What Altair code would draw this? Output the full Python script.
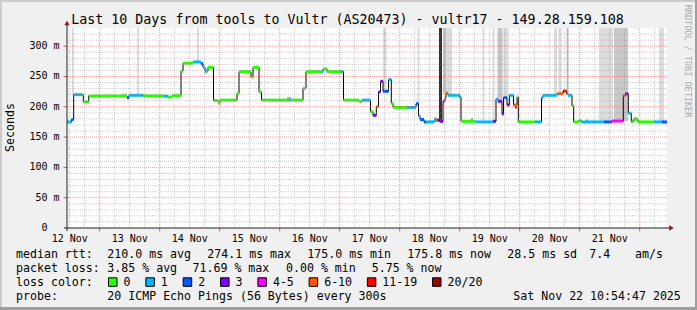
import altair as alt
import pandas as pd

MONO = "DejaVu Sans Mono"
PAD_L, PAD_T, PAD_R, PAD_B = 67, 28, 30, 82
W, H = 600, 200

# time axis: hours since 12 Nov 00:00
T_START, T_END = 10.92, 250.92
Y_MAX = 330

# ---- median rtt (step starts, ms, loss class) ----
med_t = [10.92, 12.72, 13.60, 16.92, 17.44, 19.60, 34.92, 35.72, 41.52, 49.72,
         51.32, 52.92, 56.52, 57.32, 61.32, 64.52, 65.32, 66.12, 67.32, 69.52,
         71.32, 72.12, 78.92, 79.72, 84.52, 85.32, 87.72, 88.72, 99.72, 100.52,
         105.32, 106.52, 112.92, 113.32, 114.92, 120.52, 121.52, 127.72, 128.92, 132.32,
         133.32, 134.64, 135.52, 136.32, 137.32, 139.52, 140.64, 141.32, 146.92, 150.52,
         151.52, 152.12, 153.72, 154.52, 157.72, 158.92, 159.92, 161.32, 162.12, 162.52,
         163.32, 167.92, 168.52, 174.52, 181.32, 182.52, 183.32, 184.92, 185.52, 186.92,
         187.84, 189.52, 190.92, 191.44, 198.12, 200.72, 201.32, 206.92, 209.32, 210.72,
         211.32, 212.92, 213.60, 215.60, 216.72, 225.72, 228.92, 233.44, 234.32, 235.44,
         236.64, 237.12, 237.92, 239.32, 245.72, 248.92]
med_v = [175, 179, 220, 220, 208, 218, 215, 219, 218, 217.5,
         216, 218.5, 259, 272, 274, 271, 265, 259, 265, 210.5,
         207.5, 211, 222, 258, 249, 265, 224.5, 211, 211, 211,
         230.5, 258, 258, 262.5, 258, 258, 211, 209, 211, 192,
         186, 200, 224.5, 242, 225.5, 245, 205.5, 199, 199, 205,
         185, 179, 175, 175, 177, 178, 176, 209, 215, 222.5,
         219, 216, 176, 175, 176, 212.5, 209, 188, 215, 203,
         219, 203, 216, 175, 175, 215, 219, 221.5, 226, 222,
         219, 201.5, 175, 177, 175, 175, 176.5, 218.7, 221.4, 189.5,
         175, 177, 179.5, 175, 175, 175]
med_loss = ["1", "2", "1", "0", "0", "0", "2", "1", "0", "1",
            "0", "0", "0", "0", "1", "2", "1", "1", "0", "0",
            "0", "0", "0", "0", "0", "0", "0", "0", "1", "0",
            "0", "0", "1", "0", "0", "1", "0", "0", "1", "0",
            "3", "6-10", "3", "3", "2", "1", "0", "0", "1", "2",
            "1", "2", "2", "1", "1", "11-19", "3", "4-5", "4-5", "6-10",
            "1", "1", "0", "1", "3", "1", "3", "3", "2", "3",
            "1", "6-10", "0", "0", "1", "1", "1", "6-10", "11-19", "6-10",
            "1", "0", "0", "0", "1", "2", "4-5", "6-10", "3", "1",
            "0", "0", "0", "0", "1", "2"]

loss_labels = ["0", "1", "2", "3", "4-5", "6-10", "11-19", "20/20"]
loss_colors = ["#26ff00", "#00b8ff", "#0059ff", "#7e00ff", "#ff00ff", "#ff5500", "#ff0000", "#a10000"]

# ---- smoke (ping spread) ----
smoke_t0 = [12.92, 38.92, 62.92, 137.32, 151.12, 159.72, 161.32, 162.72, 177.12, 181.12,
            183.12, 185.44, 205.72, 207.44, 210.80, 223.72, 229.72, 247.72,
            32.92, 65.72, 71.32, 98.92, 157.72, 172.52, 190.12, 218.52, 237.72]
smoke_t1 = [13.72, 39.72, 63.72, 138.72, 151.92, 160.92, 162.72, 164.92, 177.92, 181.92,
            185.12, 187.52, 206.92, 208.80, 211.52, 229.32, 235.32, 249.72,
            34.92, 66.92, 72.52, 100.52, 158.92, 173.32, 190.92, 219.32, 238.92]
smoke_lo = [220, 220, 274, 226, 205, 176, 222, 219, 175, 175,
            209, 215, 219, 221, 222, 175, 176, 175,
            218, 254, 203, 211, 177, 176, 197, 175, 179]
smoke_hi = [330, 330, 330, 330, 330, 330, 330, 330, 330, 330,
            330, 330, 330, 330, 330, 330, 330, 330,
            223, 259, 208, 216, 182, 181, 202, 179, 183]
smoke_fill = ["#dcdcdc", "#dcdcdc", "#dcdcdc", "#dcdcdc", "#dcdcdc", "#333333", "#c4c4c4", "#dcdcdc", "#dcdcdc", "#dcdcdc",
              "#c4c4c4", "#dcdcdc", "#dcdcdc", "#dcdcdc", "#b4b4b4", "#dcdcdc", "#c8c8c8", "#dcdcdc",
              "#dcdcdc", "#d0d0d0", "#cccccc", "#aaaaaa", "#888888", "#999999", "#555555", "#999999", "#aaaaaa"]

# ---- grid / axis values ----
x_label_hours = [12 + 24 * i for i in range(10)]
x_labels = ["12 Nov", "13 Nov", "14 Nov", "15 Nov", "16 Nov", "17 Nov", "18 Nov", "19 Nov", "20 Nov", "21 Nov"]
x_major = [24 * i for i in range(1, 11)]
x_minor = [h for h in range(12, 251, 6) if h % 24]
y_label_values = [50, 100, 150, 200, 250, 300]
y_label_nums = ["50", "100", "150", "200", "250", "300"]
y_unit = "m"
y_major = [50, 100, 150, 200, 250, 300]
y_minor = [v for v in range(10, 330, 10) if v % 50]

title_text = "Last 10 Days from tools to Vultr (AS20473) - vultr17 - 149.28.159.108"
row1 = [("median rtt:", 16), ("210.0 ms avg", 107.3), ("274.1 ms max", 207.3), ("175.0 ms min", 307.3),
        ("175.8 ms now", 407.3), ("28.5 ms sd", 507.3), ("7.4", 589.3), ("am/s", 635)]
row2 = [("packet loss:", 16), ("3.85 % avg", 107.3), ("71.69 % max", 192.5), ("0.00 % min", 286),
        ("5.75 % now", 371.7)]
row4 = [("probe:", 16), ("20 ICMP Echo Pings (56 Bytes) every 300s", 107.3), ("Sat Nov 22 10:54:47 2025", 513.3)]

# ---------------------------------------------------------------
XS = alt.Scale(domain=[T_START, T_END], nice=False, zero=False)
YS = alt.Scale(domain=[0, Y_MAX], nice=False, zero=True)

seg_t1 = med_t[1:] + [T_END]
seg_df = pd.DataFrame({"t0": med_t, "t1": seg_t1, "v": med_v, "loss": med_loss})
line_df = pd.DataFrame({"t": med_t + [T_END], "v": med_v + [med_v[-1]]})
smoke_df = pd.DataFrame({"t0": smoke_t0, "t1": smoke_t1, "lo": smoke_lo, "hi": smoke_hi, "fill": smoke_fill})
xlab_df = pd.DataFrame({"h": x_label_hours, "lab": x_labels})
ylab_df = pd.DataFrame({"v": [0] + y_label_values, "lab": ["0"] + y_label_nums,
                        "unit": [""] + [y_unit] * len(y_label_values)})

one = pd.DataFrame({"d": [0]})


def px(x):
    return alt.value(x - PAD_L)


def py(y):
    return alt.value(y - PAD_T)


def txt(s, x, y, size=11.6, align="left", baseline="alphabetic", angle=0, color="#000000"):
    return alt.Chart(one).mark_text(text=s, align=align, baseline=baseline, font=MONO,
                                    fontSize=size, angle=angle, color=color).encode(x=px(x), y=py(y))


def rect(x0, x1, y0, y1, fill, stroke=None):
    kw = dict(fill=fill)
    if stroke:
        kw.update(stroke=stroke, strokeWidth=1)
    return alt.Chart(one).mark_rect(**kw).encode(x=px(x0), x2=px(x1), y=py(y0), y2=py(y1))


smoke = alt.Chart(smoke_df).mark_rect().encode(
    x=alt.X("t0:Q", scale=XS, axis=None), x2="t1",
    y=alt.Y("lo:Q", scale=YS, axis=None), y2="hi",
    fill=alt.Fill("fill:N", scale=None))

median_line = alt.Chart(line_df).mark_line(interpolate="step-after", color="#000000", strokeWidth=1).encode(
    x=alt.X("t:Q", scale=XS, axis=None), y=alt.Y("v:Q", scale=YS, axis=None))

segments = alt.Chart(seg_df).mark_rule(strokeWidth=3).encode(
    x=alt.X("t0:Q", scale=XS, axis=None), x2="t1",
    y=alt.Y("v:Q", scale=YS, axis=None),
    stroke=alt.Stroke("loss:N", scale=alt.Scale(domain=loss_labels, range=loss_colors), legend=None))

GRID_MINOR = dict(color="#8c8c8c", opacity=0.42, strokeDash=[1, 1], strokeWidth=1)
GRID_MAJOR = dict(color="#dd3333", opacity=0.45, strokeDash=[1, 1], strokeWidth=1)

gx_minor = alt.Chart(pd.DataFrame({"h": x_minor})).mark_rule(**GRID_MINOR).encode(
    x=alt.X("h:Q", scale=XS, axis=None))
gy_minor = alt.Chart(pd.DataFrame({"v": y_minor})).mark_rule(**GRID_MINOR).encode(
    y=alt.Y("v:Q", scale=YS, axis=None))
gx_major = alt.Chart(pd.DataFrame({"h": x_major})).mark_rule(**GRID_MAJOR).encode(
    x=alt.X("h:Q", scale=XS, axis=None))
gy_major = alt.Chart(pd.DataFrame({"v": y_major})).mark_rule(**GRID_MAJOR).encode(
    y=alt.Y("v:Q", scale=YS, axis=None))

# tick labels through the scales
x_tick_text = alt.Chart(xlab_df).mark_text(font=MONO, fontSize=10, align="center", baseline="alphabetic",
                                           color="#000000").encode(
    x=alt.X("h:Q", scale=XS, axis=None), y=py(241.5), text="lab:N")
y_tick_num = alt.Chart(ylab_df).mark_text(font=MONO, fontSize=10, align="right", baseline="middle",
                                          color="#000000").encode(
    x=px(47.6), y=alt.Y("v:Q", scale=YS, axis=None), text="lab:N")
y_tick_unit = alt.Chart(ylab_df).mark_text(font=MONO, fontSize=10, align="right", baseline="middle",
                                           color="#000000").encode(
    x=px(59.6), y=alt.Y("v:Q", scale=YS, axis=None), text="unit:N")

x_ticks = alt.Chart(pd.DataFrame({"h": x_major})).mark_rule(color="#e06060", strokeWidth=1).encode(
    x=alt.X("h:Q", scale=XS, axis=None), y=py(228), y2=py(231.5))
y_ticks = alt.Chart(pd.DataFrame({"v": y_major})).mark_rule(color="#c06060", strokeWidth=1).encode(
    y=alt.Y("v:Q", scale=YS, axis=None), x=px(63.5), x2=px(67))

axis_y = alt.Chart(one).mark_rule(color="#202020", strokeWidth=1).encode(
    x=px(67), y=py(22), y2=py(231))
axis_x = alt.Chart(one).mark_rule(color="#202020", strokeWidth=1).encode(
    x=px(64), x2=px(670), y=py(228))
arrow_up = alt.Chart(one).mark_point(shape="triangle-up", filled=True, size=28, color="#8b1a1a", opacity=1).encode(
    x=px(67), y=py(23))
arrow_right = alt.Chart(one).mark_point(shape="triangle-right", filled=True, size=28, color="#8b1a1a", opacity=1).encode(
    x=px(671.5), y=py(228))

layers = [smoke, median_line, segments, gx_minor, gy_minor, gx_major, gy_major, x_ticks, y_ticks,
          x_tick_text, y_tick_num, y_tick_unit, axis_y, axis_x, arrow_up, arrow_right]

# frame
layers += [rect(0, 697, 0, 2, "#cbcbcb"), rect(0, 2, 0, 310, "#cbcbcb"),
           rect(0, 697, 307, 310, "#9e9e9e"), rect(695, 697, 0, 310, "#9e9e9e")]

# texts
layers.append(txt(title_text, 347.5, 23.5, size=13.3, align="center"))
layers.append(txt("Seconds", 11, 127.5, size=11.6, align="center", baseline="middle", angle=270))
layers.append(txt("RRDTOOL / TOBI OETIKER", 688, 61, size=8.5, align="center", baseline="middle",
                  angle=90, color="#aaaaaa"))
for s, x in row1:
    layers.append(txt(s, x, 258))
for s, x in row2:
    layers.append(txt(s, x, 272))
layers.append(txt("loss color:", 16, 286))
sq_x = 108.5
for lab, col in zip(loss_labels, loss_colors):
    layers.append(rect(sq_x, sq_x + 8.5, 277.8, 286.3, col, stroke="#000000"))
    layers.append(txt(lab, sq_x + 15, 286))
    sq_x += 15 + len(lab) * 6.95 + 15.4
for s, x in row4:
    layers.append(txt(s, x, 299.5))

chart = alt.layer(*layers).properties(
    width=W, height=H,
    padding={"left": PAD_L, "top": PAD_T, "right": PAD_R, "bottom": PAD_B},
    autosize=alt.AutoSizeParams(type="none"),
    background="#f0f0f0",
).configure_view(fill="white", stroke=None)

chart.save("out.html", embed_options={"renderer": "svg", "actions": False})
